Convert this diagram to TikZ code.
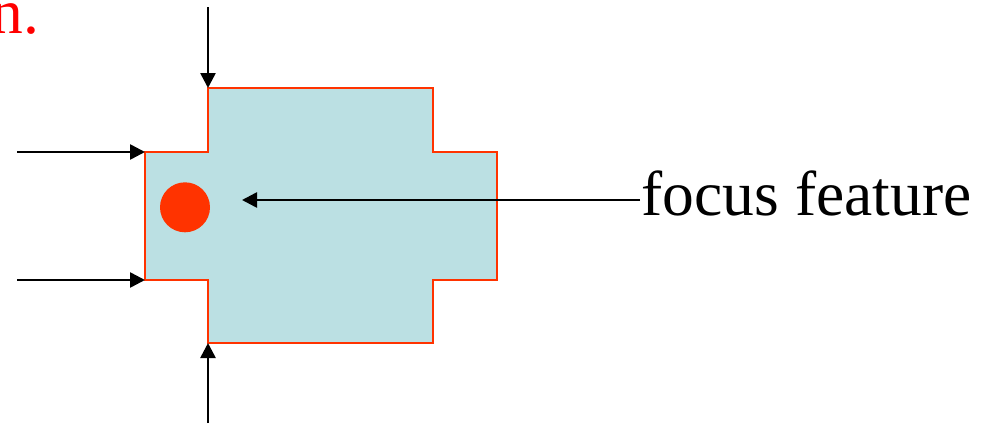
\documentclass[tikz,border=0pt]{standalone}
\usepackage{fontspec}
\setmainfont{Liberation Serif}
\usetikzlibrary{arrows.meta}
\definecolor{shapefill}{HTML}{BBE0E3}
\definecolor{shapeedge}{HTML}{FF3300}
\definecolor{dotred}{HTML}{FF3300}
\tikzset{
  pointer/.style={draw=black, line width=2.6pt, -{Triangle[length=15pt,width=15pt]}},
  bigtext/.style={inner sep=0pt, font=\fontsize{63.5}{70}\selectfont},
}
\begin{document}
\begin{tikzpicture}[x=1pt,y=-1pt]
\useasboundingbox (0,0) rectangle (990,423);
% cross-shaped region
\coordinate (tl) at (208,88);
\coordinate (tr) at (433,88);
\coordinate (rtu) at (433,152);
\coordinate (rru) at (497,152);
\coordinate (rrd) at (497,280);
\coordinate (rtd) at (433,280);
\coordinate (br) at (433,343);
\coordinate (bl) at (208,343);
\coordinate (ltd) at (208,280);
\coordinate (lld) at (145,280);
\coordinate (llu) at (145,152);
\coordinate (ltu) at (208,152);
\draw[fill=shapefill, draw=shapeedge, line width=2.2pt, line join=miter]
  (tl) -- (tr) -- (rtu) -- (rru) -- (rrd) -- (rtd) -- (br) -- (bl) -- (ltd) -- (lld) -- (llu) -- (ltu) -- cycle;
% focus dot
\node[circle, fill=dotred, inner sep=0pt, minimum size=50pt] (dot) at (185,207.3) {};
% texts
\node[bigtext, text=red, anchor=base east] (title) at (39.5,33) {n.};
\node[bigtext, anchor=base west] (ff) at (641.5,215) {focus feature};
% arrow free ends
\coordinate (topstart) at (208,7);
\coordinate (botstart) at (208,423);
\coordinate (lustart) at (17,152);
\coordinate (ldstart) at (17,280);
\coordinate (focustip) at (242,200);
% arrows
\draw[pointer] (topstart) -- (tl);
\draw[pointer] (botstart) -- (bl);
\draw[pointer] (lustart) -- (llu);
\draw[pointer] (ldstart) -- (lld);
\draw[pointer] ([xshift=-1.5pt,yshift=15pt]ff.base west) -- (focustip);
\end{tikzpicture}
\end{document}
